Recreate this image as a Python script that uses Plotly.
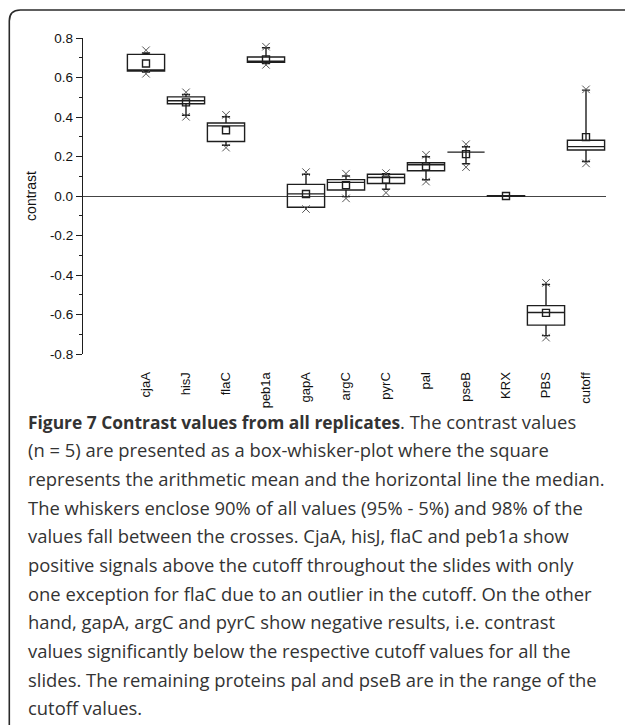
import plotly.graph_objects as go

# ---------------- data ----------------
categories = ["cjaA", "hisJ", "flaC", "peb1a", "gapA", "argC", "pyrC",
              "pal", "pseB", "KRX", "PBS", "cutoff"]
q3 =        [0.717, 0.502, 0.370, 0.704, 0.059, 0.083, 0.110, 0.168, 0.222, 0.002, -0.555, 0.282]
medians =   [0.637, 0.482, 0.355, 0.682, 0.011, 0.069, 0.094, 0.158, 0.222, 0.000, -0.590, 0.250]
q1 =        [0.633, 0.467, 0.276, 0.677, -0.057, 0.030, 0.063, 0.128, 0.222, -0.002, -0.654, 0.233]
upper_whisker = [0.724, 0.514, 0.401, 0.751, 0.110, 0.101, 0.113, 0.199, 0.249, 0.002, -0.448, 0.536]
lower_whisker = [0.628, 0.409, 0.257, 0.670, -0.057, -0.003, 0.034, 0.082, 0.163, -0.002, -0.707, 0.175]
means =     [0.671, 0.474, 0.333, 0.692, 0.010, 0.055, 0.083, 0.150, 0.212, 0.000, -0.592, 0.298]
max_cross = [0.738, 0.525, 0.411, 0.756, 0.121, 0.113, 0.116, 0.209, 0.262, None, -0.440, 0.540]
min_cross = [0.619, 0.401, 0.245, 0.664, -0.066, -0.012, 0.017, 0.073, 0.146, None, -0.717, 0.165]

y_tickvals = [0.8, 0.6, 0.4, 0.2, 0.0, -0.2, -0.4, -0.6, -0.8]
y_ticktext = ["0.8", "0.6", "0.4", "0.2", "0.0", "-0.2", "-0.4", "-0.6", "-0.8"]

caption_title = "Figure 7 Contrast values from all replicates"
caption_lines = [
    ". The contrast values",
    "(n = 5) are presented as a box-whisker-plot where the square",
    "represents the arithmetic mean and the horizontal line the median.",
    "The whiskers enclose 90% of all values (95% - 5%) and 98% of the",
    "values fall between the crosses. CjaA, hisJ, flaC and peb1a show",
    "positive signals above the cutoff throughout the slides with only",
    "one exception for flaC due to an outlier in the cutoff. On the other",
    "hand, gapA, argC and pyrC show negative results, i.e. contrast",
    "values significantly below the respective cutoff values for all the",
    "slides. The remaining proteins pal and pseB are in the range of the",
    "cutoff values.",
]

# ---------------- layout geometry ----------------
W, H = 625, 725
ML, MR, MT, MB = 83, 19, 38, 371
PW, PH = W - ML - MR, H - MT - MB


def px(x):
    return (x - ML) / PW


def py(y):
    return (H - MB - y) / PH


LINE = "#1e1e1e"

fig = go.Figure()

fig.add_trace(go.Box(
    x=categories,
    q1=q1, median=medians, q3=q3,
    lowerfence=lower_whisker, upperfence=upper_whisker,
    width=0.93, whiskerwidth=0.22,
    fillcolor="rgba(255,255,255,0)",
    line=dict(color=LINE, width=1.4),
    boxpoints=False,
    showlegend=False,
    hoverinfo="skip",
))

cross_style = dict(symbol="x-thin", size=7.5, color="#555555",
                   line=dict(color="#555555", width=1))
fig.add_trace(go.Scatter(x=categories, y=max_cross, mode="markers",
                         marker=cross_style, showlegend=False, hoverinfo="skip"))
fig.add_trace(go.Scatter(x=categories, y=min_cross, mode="markers",
                         marker=cross_style, showlegend=False, hoverinfo="skip"))
fig.add_trace(go.Scatter(x=categories, y=means, mode="markers",
                         marker=dict(symbol="square-open", size=7, color=LINE,
                                     line=dict(color=LINE, width=1.4)),
                         showlegend=False, hoverinfo="skip"))

# caption lines
y0, step = 421.0, 28.7
for i, line in enumerate(caption_lines):
    text = line
    if i == 0:
        text = ('<span style="font-size:17.4px"><b>' + caption_title +
                "</b></span>" + line)
    fig.add_annotation(
        x=px(26), y=py(y0 + i * step), xref="paper", yref="paper",
        xanchor="left", yanchor="middle", showarrow=False,
        text=text, align="left",
        font=dict(family="Open Sans", size=18.4, color="#333333"),
    )

# rounded frame (left and top edges)
path = (f"M {px(9.3)},{py(730)} L {px(9.3)},{py(21)} "
        f"Q {px(9.3)},{py(10)} {px(20.3)},{py(10)} L {px(630)},{py(10)}")
fig.add_shape(type="path", path=path, xref="paper", yref="paper",
              line=dict(color="#2a2a2a", width=1.6), layer="above")

fig.update_layout(
    width=W, height=H,
    margin=dict(l=ML, r=MR, t=MT, b=MB),
    paper_bgcolor="white", plot_bgcolor="white",
    font=dict(family="Liberation Sans, Arial", color="#222222"),
    xaxis=dict(
        type="category", range=[-1.575, 11.5], automargin=False,
        showline=False, showgrid=False, zeroline=False,
        ticks="outside", ticklen=12, tickcolor="rgba(0,0,0,0)",
        tickangle=-90, tickfont=dict(size=13, color="#111111"),
    ),
    yaxis=dict(
        range=[-0.8, 0.8], automargin=False,
        tickmode="array", tickvals=y_tickvals, ticktext=y_ticktext,
        showline=True, linecolor=LINE, linewidth=1.3,
        ticks="outside", ticklen=6, tickwidth=1.2, tickcolor=LINE,
        tickfont=dict(size=13.5, color="#111111"),
        showgrid=False,
        zeroline=True, zerolinecolor="#444444", zerolinewidth=1.3,
        minor=dict(tickmode="linear", tick0=0, dtick=0.1, ticks="outside",
                   ticklen=3, tickwidth=1, tickcolor=LINE, showgrid=False),
        title=dict(text="contrast", font=dict(size=14, color="#111111"), standoff=9),
    ),
)

fig.write_html(
    "out.html",
    config={"displayModeBar": False},
    post_script="document.body.style.margin='0';document.body.style.padding='0';",
)
